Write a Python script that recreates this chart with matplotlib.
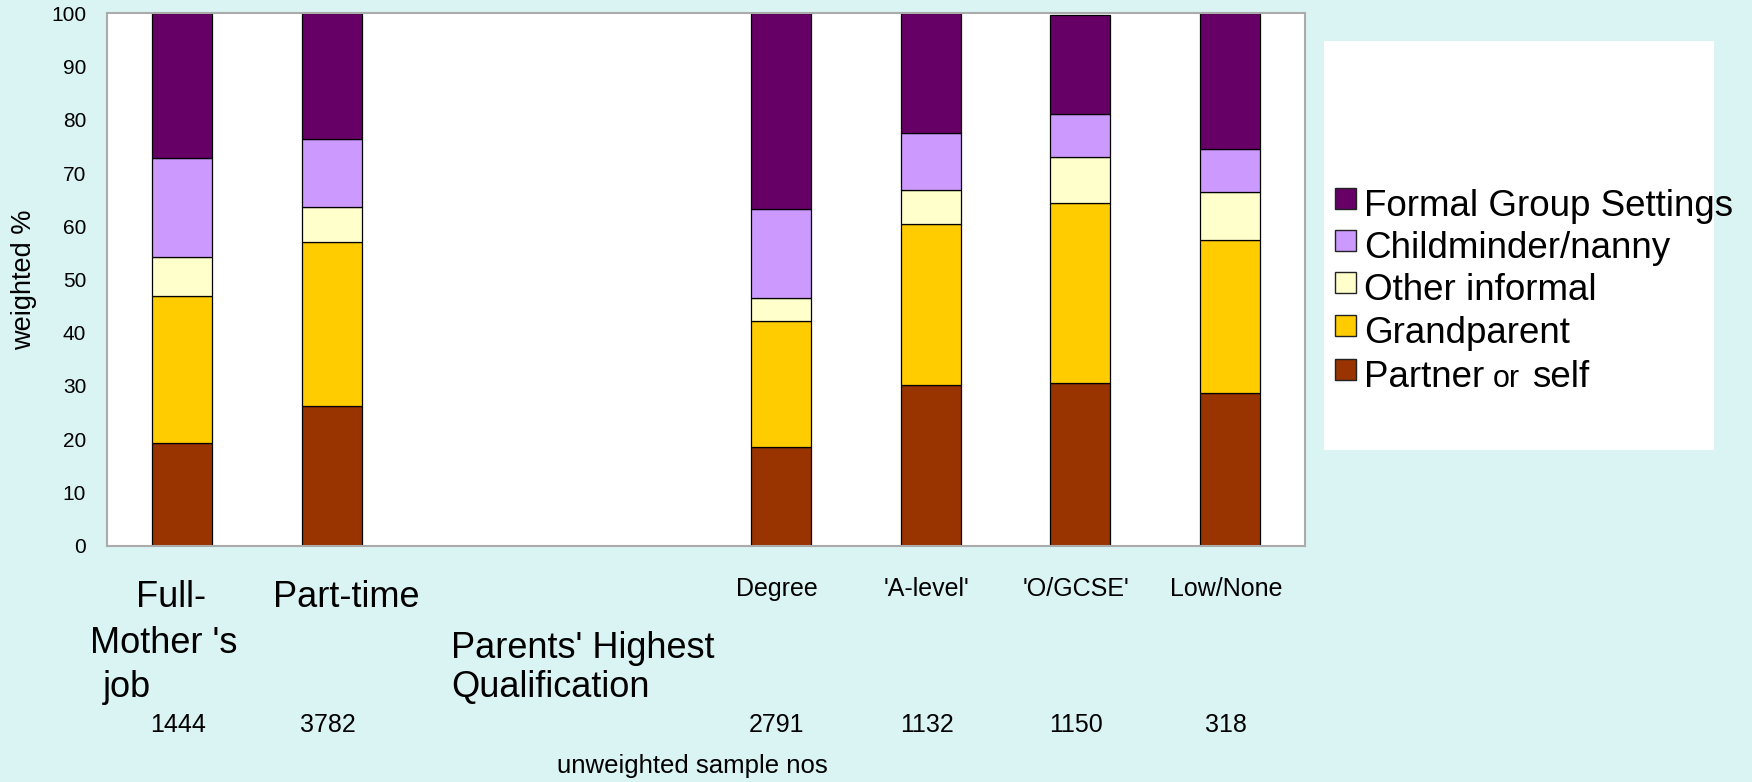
import matplotlib.pyplot as plt
from matplotlib.patches import Rectangle
import numpy as np

plt.rcParams['font.family'] = ['Liberation Sans', 'DejaVu Sans']

# stacked shares (weighted %), bottom segment first
series = ['Partner or self', 'Grandparent', 'Other informal',
          'Childminder/nanny', 'Formal Group Settings']
colors = ['#993300', '#FFCC00', '#FFFFCC', '#CC99FF', '#660066']

groups = ['Full-time', 'Part-time', 'Degree', "'A-level'", "'O/GCSE'", 'Low/None']
slots = [0, 1, 4, 5, 6, 7]          # two empty slots between the groups
partner = [19.3, 26.2, 18.6, 30.2, 30.5, 28.7]
grandparent = [27.6, 30.9, 23.6, 30.2, 33.8, 28.7]
other_informal = [7.3, 6.5, 4.3, 6.5, 8.8, 9.1]
childminder = [18.6, 12.7, 16.8, 10.6, 8.0, 8.1]
formal = [27.2, 23.7, 36.7, 22.5, 18.5, 25.4]
sample_n = [1444, 3782, 2791, 1132, 1150, 318]

W, H = 1752, 782
bg = '#DAF3F3'

def fx(px):
    return px / W

def fy(py):
    return 1 - py / H

fig = plt.figure(figsize=(W / 100, H / 100), dpi=100, facecolor=bg)
ax = fig.add_axes([fx(107), fy(545.7), fx(1305) - fx(107), fy(13.3) - fy(545.7)])
ax.set_facecolor('white')

bottom = np.zeros(len(slots))
for vals, c in zip([partner, grandparent, other_informal, childminder, formal], colors):
    ax.bar(slots, vals, width=0.4, bottom=bottom, color=c,
           edgecolor='black', linewidth=0.9)
    bottom += np.array(vals)

ax.set_xlim(-0.5, 7.5)
ax.set_ylim(0, 100)
ax.set_yticks(np.arange(0, 101, 10))
ax.set_xticks([])
ax.tick_params(axis='y', length=0, pad=15, labelsize=15)
for s in ax.spines.values():
    s.set_color('#ABABAB')
    s.set_linewidth(1.5)

fig.text(fx(24), fy(280), 'weighted %', rotation=90, ha='center', va='center',
         fontsize=19.5)

# category labels under the bars
big = 26
fig.text(fx(136), fy(606.7), 'Full-', fontsize=big, va='baseline')
fig.text(fx(272.7), fy(606.7), 'Part-time', fontsize=big, va='baseline')
fig.text(fx(90), fy(653), "Mother 's", fontsize=big, va='baseline')
fig.text(fx(103), fy(697), 'job', fontsize=big, va='baseline')
fig.text(fx(451), fy(658.3), "Parents' Highest", fontsize=big, va='baseline')
fig.text(fx(451), fy(696.7), 'Qualification', fontsize=big, va='baseline')

to_fig = ax.transData + fig.transFigure.inverted()
for i, (s, g, n) in enumerate(zip(slots, groups, sample_n)):
    xf = to_fig.transform((s, 0))[0] - fx(4)
    if i >= 2:
        fig.text(xf, fy(596), g, fontsize=18, ha='center', va='baseline')
    fig.text(xf, fy(731.7), str(n), fontsize=18, ha='center', va='baseline')

fig.text(fx(692), fy(773), 'unweighted sample nos', fontsize=18.5,
         ha='center', va='baseline')

# legend panel
fig.patches.append(Rectangle((fx(1324), fy(450)), fx(1714) - fx(1324),
                             fy(41) - fy(450), transform=fig.transFigure,
                             facecolor='white', edgecolor='none', zorder=0))
baselines = [216, 258.3, 300, 343.3, 386.7]
for name, c, b in zip(series[::-1], colors[::-1], baselines):
    fig.patches.append(Rectangle((fx(1335), fy(b - 7)), fx(21), fy(0) - fy(21),
                                 transform=fig.transFigure, facecolor=c,
                                 edgecolor='#222222', linewidth=1, zorder=2))
    if name == 'Partner or self':
        fig.text(fx(1364), fy(b), 'Partner', fontsize=26.5, va='baseline')
        fig.text(fx(1493), fy(b), 'or', fontsize=22, va='baseline')
        fig.text(fx(1532), fy(b), 'self', fontsize=26.5, va='baseline')
    else:
        fig.text(fx(1364), fy(b), name, fontsize=26.5, va='baseline')

fig.savefig('out.png', dpi=100, facecolor=bg)
